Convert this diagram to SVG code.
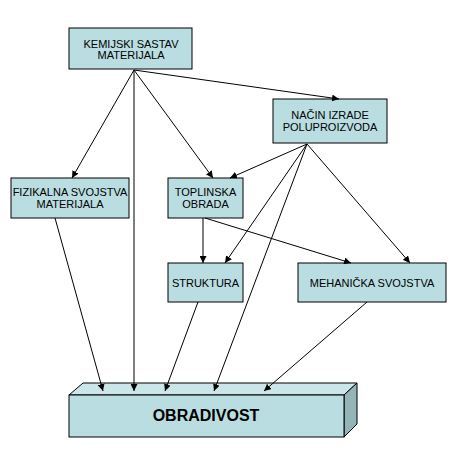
<svg xmlns="http://www.w3.org/2000/svg" width="471" height="461" viewBox="0 0 471 461">
<defs>
<marker id="ah" viewBox="0 0 10 10" refX="10" refY="5" markerWidth="7" markerHeight="7" markerUnits="userSpaceOnUse" orient="auto">
<path d="M0,0 L10,5 L0,10 Z" fill="#000"/>
</marker>
<style>
.box{fill:#B9DDE0;stroke:#000;stroke-width:1}
.t{font-family:"Liberation Sans",Arial,sans-serif;font-size:11px;fill:#000;text-anchor:middle}
.c{stroke:#000;stroke-width:1;fill:none;marker-end:url(#ah)}
</style>
</defs>
<rect width="471" height="461" fill="#fff"/>
<g id="kemijski">
<rect class="box" x="69" y="28" width="123" height="41"/>
<text class="t" x="131" y="48">KEMIJSKI SASTAV</text>
<text class="t" x="131" y="59">MATERIJALA</text>
</g>
<g id="nacin">
<rect class="box" x="273" y="99" width="114" height="44"/>
<text class="t" x="330" y="119">NAČIN IZRADE</text>
<text class="t" x="330" y="131">POLUPROIZVODA</text>
</g>
<g id="fizikalna">
<rect class="box" x="11" y="178" width="118" height="40"/>
<text class="t" x="70" y="196">FIZIKALNA SVOJSTVA</text>
<text class="t" x="70" y="208">MATERIJALA</text>
</g>
<g id="toplinska">
<rect class="box" x="168" y="178" width="75" height="40"/>
<text class="t" x="205.5" y="196">TOPLINSKA</text>
<text class="t" x="205.5" y="208">OBRADA</text>
</g>
<g id="struktura">
<rect class="box" x="168" y="263" width="75" height="39"/>
<text class="t" x="205.5" y="287">STRUKTURA</text>
</g>
<g id="mehanicka">
<rect class="box" x="298" y="263" width="148" height="39"/>
<text class="t" x="372" y="287">MEHANIČKA SVOJSTVA</text>
</g>
<g id="obradivost">
<polygon points="69,395 83,383 357,383 344,395" fill="#CBE6E8" stroke="#000" stroke-width="1"/>
<polygon points="344,395 357,383 357,424 344,437" fill="#93B5B8" stroke="#000" stroke-width="1"/>
<rect class="box" x="69" y="395" width="275" height="42"/>
<text x="206" y="421" font-family="'Liberation Sans',Arial,sans-serif" font-size="16" font-weight="bold" text-anchor="middle" fill="#000">OBRADIVOST</text>
</g>
<g id="connectors">
<line class="c" x1="134" y1="70" x2="339" y2="99"/>
<line class="c" x1="134" y1="70" x2="72" y2="178"/>
<line class="c" x1="134" y1="70" x2="213" y2="178"/>
<line class="c" x1="134" y1="70" x2="134" y2="391"/>
<line class="c" x1="307" y1="144" x2="230" y2="178"/>
<line class="c" x1="307" y1="144" x2="225" y2="263"/>
<line class="c" x1="307" y1="144" x2="214" y2="391"/>
<line class="c" x1="307" y1="144" x2="410" y2="263"/>
<line class="c" x1="203" y1="218" x2="203" y2="263"/>
<line class="c" x1="205" y1="218" x2="351" y2="263"/>
<line class="c" x1="55" y1="218" x2="103" y2="391"/>
<line class="c" x1="198" y1="302" x2="165" y2="391"/>
<line class="c" x1="367" y1="302" x2="264" y2="391"/>
</g>
</svg>
